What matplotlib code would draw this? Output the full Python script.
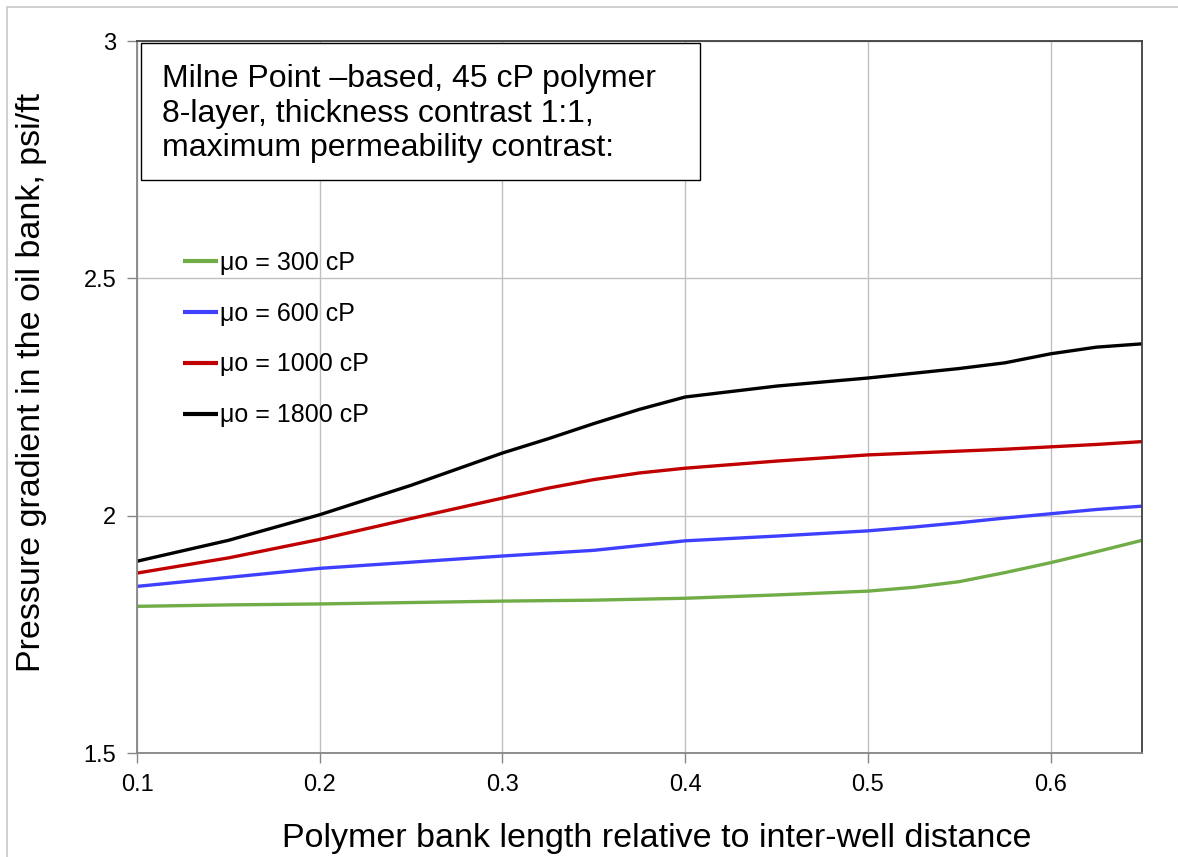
import matplotlib
matplotlib.use("Agg")
import matplotlib.pyplot as plt
from matplotlib.patches import Rectangle

plt.rcParams['font.family'] = ['Liberation Sans', 'DejaVu Sans']

x = [0.1, 0.15, 0.2, 0.25, 0.3, 0.325, 0.35, 0.375, 0.4, 0.45, 0.5, 0.525, 0.55, 0.575, 0.6, 0.625, 0.65]
mu300 = [1.809, 1.812, 1.814, 1.817, 1.820, 1.821, 1.822, 1.824, 1.826, 1.833, 1.841, 1.849, 1.861, 1.880, 1.901, 1.924, 1.948]
mu600 = [1.851, 1.870, 1.889, 1.902, 1.915, 1.921, 1.927, 1.937, 1.947, 1.957, 1.968, 1.976, 1.985, 1.995, 2.004, 2.013, 2.020]
mu1000 = [1.879, 1.911, 1.950, 1.994, 2.037, 2.058, 2.076, 2.090, 2.100, 2.115, 2.128, 2.132, 2.136, 2.140, 2.145, 2.150, 2.156]
mu1800 = [1.904, 1.948, 2.002, 2.064, 2.132, 2.162, 2.194, 2.224, 2.250, 2.273, 2.290, 2.300, 2.310, 2.322, 2.341, 2.355, 2.362]
labels = ["μo = 300 cP", "μo = 600 cP", "μo = 1000 cP", "μo = 1800 cP"]
colors = ["#70AD47", "#3F3FFF", "#C00000", "#000000"]
xticks = [0.1, 0.2, 0.3, 0.4, 0.5, 0.6]
yticks = [1.5, 2.0, 2.5, 3.0]
ytick_labels = ["1.5", "2", "2.5", "3"]
note = "Milne Point \u2013based, 45 cP polymer\n8-layer, thickness contrast 1:1,\nmaximum permeability contrast:"

W, H = 1178, 857
fig = plt.figure(figsize=(W / 100, H / 100), dpi=100)
ax = fig.add_axes([137 / W, 1 - 753 / H, (1142 - 137) / W, (753 - 41) / H])

# outer frame
fig.patches.append(Rectangle((7 / W, -0.01), 1.02, 1 - 7 / H + 0.01, transform=fig.transFigure,
                             fill=False, edgecolor="#C8C8C8", linewidth=1.2))

for ys, c, lab in zip([mu300, mu600, mu1000, mu1800], colors, labels):
    ax.plot(x, ys, color=c, linewidth=2.4, label=lab, solid_capstyle='butt',
            solid_joinstyle='round')

ax.set_xlim(0.1, 0.65)
ax.set_ylim(1.5, 3.0)
ax.set_xticks(xticks)
ax.set_xticklabels([f"{v:g}" for v in xticks])
ax.set_yticks(yticks)
ax.set_yticklabels(ytick_labels)
ax.grid(True, color="#C0C0C0", linewidth=1.0)
ax.set_axisbelow(True)
ax.tick_params(axis='both', direction='out', length=7, width=1, color="#868686",
               labelsize=17, pad=8)
for s in ['left', 'bottom']:
    ax.spines[s].set_color("#868686")
    ax.spines[s].set_linewidth(1.3)
for s in ['top', 'right']:
    ax.spines[s].set_color("#404040")
    ax.spines[s].set_linewidth(1.3)

fig.text(32 / W, 1 - 382 / H, "Pressure gradient in the oil bank, psi/ft", rotation=90,
         ha='center', va='center', fontsize=24.5)
fig.text(657 / W, 1 - 838 / H, "Polymer bank length relative to inter-well distance",
         ha='center', va='center', fontsize=24.5)

# note box
fig.patches.append(Rectangle((141 / W, 1 - 180 / H), (700 - 141) / W, (180 - 43) / H,
                             transform=fig.transFigure, facecolor='white',
                             edgecolor="#000000", linewidth=1.0, zorder=5))
fig.text(162 / W, 1 - 64 / H, note, ha='left', va='top', fontsize=23, linespacing=1.2, zorder=6)

leg = ax.legend(loc='upper left', bbox_to_anchor=(183 / W, 1 - 251 / H),
                bbox_transform=fig.transFigure, frameon=False, fontsize=18,
                handlelength=1.4, handletextpad=0.1, labelspacing=1.07,
                borderpad=0, borderaxespad=0)
for ln in leg.get_lines():
    ln.set_linewidth(3.0)

fig.savefig("out.png", dpi=100)
